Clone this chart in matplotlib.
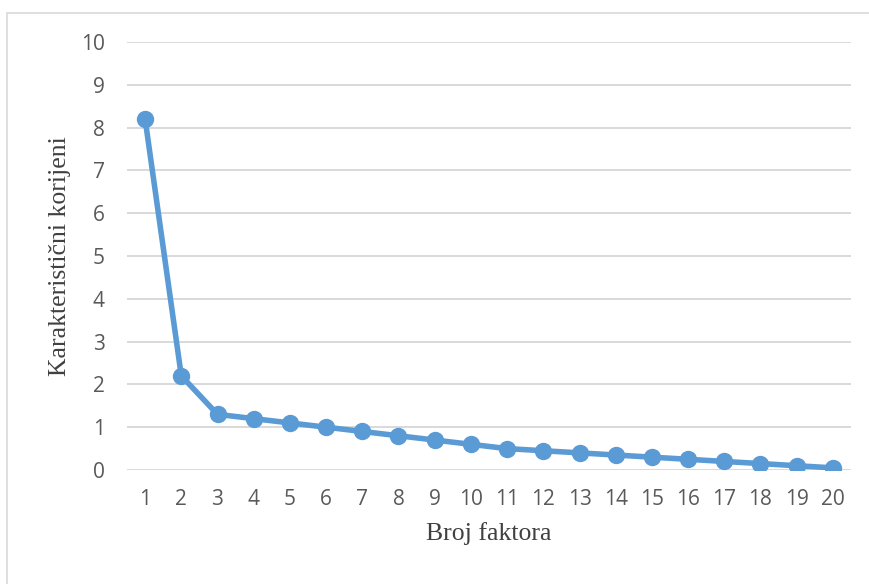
import matplotlib
matplotlib.use("Agg")
import matplotlib.pyplot as plt
from matplotlib.patches import Rectangle

# Eigenvalues per factor (scree plot)
factors = list(range(1, 21))
eigenvalues = [8.2, 2.2, 1.3, 1.2, 1.1, 1.0, 0.9, 0.8, 0.7, 0.6,
               0.5, 0.45, 0.4, 0.35, 0.3, 0.25, 0.2, 0.15, 0.1, 0.05]
y_ticks = list(range(0, 11))

fig = plt.figure(figsize=(8.7, 5.84), dpi=100)
ax = fig.add_axes([127 / 870, 114 / 584, 724 / 870, 428 / 584])

# light chart-area border
fig.patches.append(Rectangle((7 / 870, -0.1), 1.2, (584 - 13) / 584 + 0.1,
                             transform=fig.transFigure, fill=False,
                             edgecolor="#D9D9D9", linewidth=1.2))

ax.plot(factors, eigenvalues, color="#5B9BD5", linewidth=4,
        marker="o", markersize=11.5, zorder=3)

ax.set_xlim(0.5, 20.5)
ax.set_ylim(0, 10)
ax.set_xticks(factors)
ax.set_yticks(y_ticks)
ax.grid(axis="y", color="#D9D9D9", linewidth=1.4)
ax.set_axisbelow(True)
for s in ax.spines.values():
    s.set_visible(False)
ax.tick_params(length=0, labelsize=15, labelcolor="#595959")
for lbl in ax.get_xticklabels() + ax.get_yticklabels():
    lbl.set_family("Open Sans")
ax.tick_params(axis="x", pad=14)
ax.tick_params(axis="y", pad=16)

ax.set_xlabel("Broj faktora", family="Liberation Serif", fontsize=18.5,
              color="#404040", labelpad=8)
ax.set_ylabel("Karakteristični korijeni", family="Liberation Serif",
              fontsize=18.5, color="#404040", labelpad=7)

fig.savefig("out.png", dpi=100)
